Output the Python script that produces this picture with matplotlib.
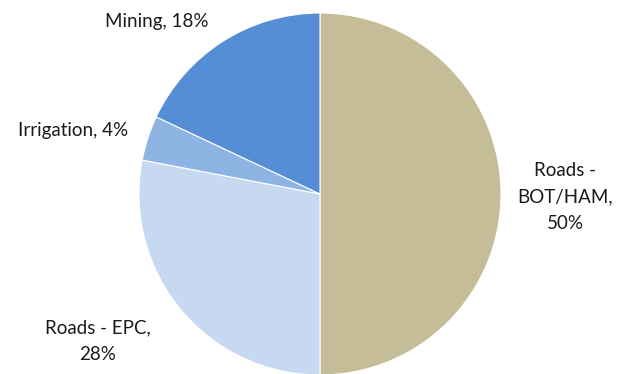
import matplotlib.pyplot as plt

# sector shares, clockwise from 12 o'clock
sectors = ['Roads - BOT/HAM', 'Roads - EPC', 'Irrigation', 'Mining']
shares = [50, 28, 4, 18]
colours = ['#C4BD97', '#C6D9F1', '#8EB4E3', '#558ED5']

# label text and where it sits (pixel coords, y measured from bottom)
label_text = ['Roads -\nBOT/HAM,\n50%', 'Roads - EPC,\n28%',
              'Irrigation, 4%', 'Mining, 18%']
label_pos = [(565, 177), (98, 33), (73, 244), (157, 353)]

plt.rcParams['font.family'] = ['Lato', 'DejaVu Sans']

fig = plt.figure(figsize=(6.24, 3.74), dpi=100)
ax = fig.add_axes([0, 0, 1, 1])

ax.pie(shares, colors=colours, startangle=90, counterclock=False,
       center=(320, 180), radius=181, frame=True,
       wedgeprops=dict(edgecolor='white', linewidth=0.8))
ax.set_xlim(0, 624)
ax.set_ylim(0, 374)
ax.set_aspect('equal')
ax.axis('off')

for txt, (x, y) in zip(label_text, label_pos):
    ax.text(x, y, txt, ha='center', va='center', fontsize=13.5,
            color='#1a1a1a', linespacing=1.65)

fig.savefig('out.png', dpi=100)
